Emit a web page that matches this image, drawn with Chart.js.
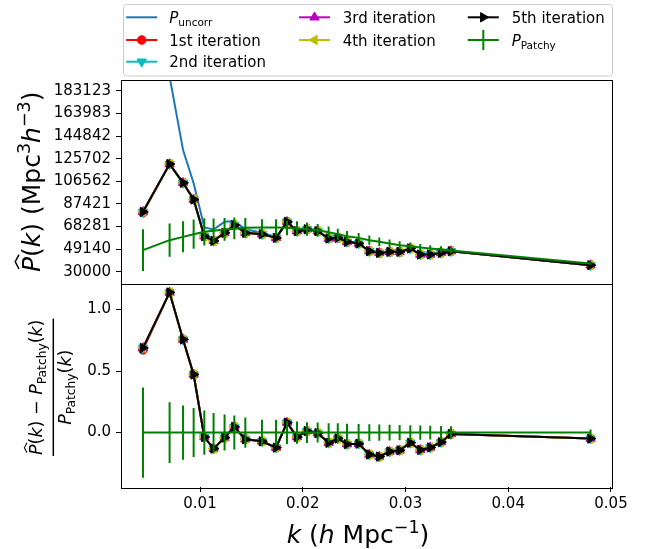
<!DOCTYPE html>
<html>
<head>
<meta charset="utf-8">
<script src="https://cdn.jsdelivr.net/npm/chart.js@4.4.0/dist/chart.umd.min.js"></script>
<style>
  html, body { margin: 0; padding: 0; background: #fff; }
  canvas { display: block; }
</style>
</head>
<body>
<canvas id="myChart" width="651" height="549"></canvas>
<script>
// k bins (h/Mpc)
var kVals = [0.00445, 0.00704, 0.00835, 0.00938, 0.01042, 0.01132, 0.01239, 0.01334, 0.01441, 0.01603,
  0.01740, 0.01847, 0.01944, 0.02041, 0.02145, 0.02252, 0.02341, 0.02431, 0.02544, 0.02648,
  0.02745, 0.02845, 0.02943, 0.03047, 0.03144, 0.03241, 0.03346, 0.03443, 0.04801];

// top panel, P(k)
var uncorrP = [260000, 195000, 133000, 105000, 67500, 65800, 72300, 73000, 66000, 63000,
  59500, 71800, 64800, 66000, 64600, 58400, 58900, 55500, 54200, 47700,
  46200, 47000, 47000, 49900, 44900, 44900, 46200, 47600, 35700];
var iter1P = [80000, 121100, 105300, 91240, 60200, 56220, 63000, 69500, 63000, 61890,
  58760, 72300, 64430, 66000, 64430, 58250, 58760, 55380, 54020, 47510,
  46070, 46920, 46920, 49790, 44720, 44720, 46070, 47510, 35670];
var iterLateP = [80750, 121100, 105300, 91240, 60200, 56220, 63000, 69500, 63000, 61890,
  58760, 72300, 64430, 66000, 64430, 58250, 58760, 55380, 54020, 47510,
  46070, 46920, 46920, 49790, 44720, 44720, 46070, 47510, 35670];
var patchyP = [48360, 56820, 59610, 61890, 63840, 64680, 65870, 66710, 67220, 67560,
  67560, 67220, 66710, 66120, 65270, 63580, 61890, 60200, 58760, 56820,
  55380, 54020, 52590, 51740, 50640, 49790, 48950, 48100, 37000];
var patchyErr = [17700, 14030, 13110, 12320, 11490, 10350, 9620, 9210, 8270, 7030,
  7030, 6180, 6000, 5550, 5290, 4830, 4640, 4330, 4110, 3860,
  3650, 3460, 3260, 3100, 2940, 2790, 2640, 2500, 925];

// bottom panel, (P - P_Patchy) / P_Patchy
var iter1Ratio = [0.672, 1.138, 0.756, 0.472, -0.036, -0.130, -0.041, 0.046, -0.054, -0.071,
  -0.122, 0.081, -0.036, 0.012, -0.005, -0.083, -0.048, -0.094, -0.090, -0.178,
  -0.195, -0.154, -0.144, -0.083, -0.141, -0.121, -0.078, -0.011, -0.049];
var iterLateRatio = [0.688, 1.138, 0.756, 0.472, -0.036, -0.130, -0.041, 0.046, -0.054, -0.071,
  -0.122, 0.081, -0.036, 0.012, -0.005, -0.083, -0.048, -0.094, -0.090, -0.178,
  -0.195, -0.154, -0.144, -0.083, -0.141, -0.121, -0.078, -0.011, -0.049];
var patchyRatio = [0, 0, 0, 0, 0, 0, 0, 0, 0, 0, 0, 0, 0, 0, 0, 0, 0, 0, 0, 0, 0, 0, 0, 0, 0, 0, 0, 0, 0];
var ratioErr = [0.366, 0.247, 0.220, 0.199, 0.180, 0.160, 0.146, 0.138, 0.123, 0.104,
  0.104, 0.092, 0.090, 0.084, 0.081, 0.076, 0.075, 0.072, 0.070, 0.068,
  0.066, 0.064, 0.062, 0.060, 0.058, 0.056, 0.054, 0.052, 0.025];

var seriesNames = ['P_uncorr', '1st iteration', '2nd iteration', '3rd iteration', '4th iteration', '5th iteration', 'P_Patchy'];
var pTicks = [30000, 49140, 68281, 87421, 106562, 125702, 144842, 163983, 183123];
var ratioTicks = [0, 0.5, 1.0];
var kTicks = [0.01, 0.02, 0.03, 0.04, 0.05];

var FONT = '"DejaVu Sans"';
var TICK_SIZE = 15;
var iterColors = ['#ff0000', '#00bfbf', '#bf00bf', '#bfbf00', '#000000'];
var iterStyles = ['circle', 'triangle', 'triangle', 'triangle', 'triangle'];
var iterRot = [0, 180, 0, 270, 90];

function pts(arr) {
  return kVals.map(function (k, i) { return { x: k, y: arr[i] }; });
}

function lineSet(label, arr, color, axis, order, style, rot) {
  return {
    label: label,
    data: pts(arr),
    yAxisID: axis,
    borderColor: color,
    backgroundColor: color,
    borderWidth: 2,
    pointRadius: style ? (style == 'circle' ? 4.3 : 5.4) : 0,
    pointStyle: style || 'circle',
    pointRotation: rot || 0,
    pointBorderWidth: 1,
    pointBorderColor: color,
    pointBackgroundColor: color,
    tension: 0,
    order: order
  };
}

var datasets = [];
datasets.push(lineSet(seriesNames[0], uncorrP, '#1f77b4', 'y', 6));
var topIters = [iter1P, iterLateP, iterLateP, iterLateP, iterLateP];
var botIters = [iter1Ratio, iterLateRatio, iterLateRatio, iterLateRatio, iterLateRatio];
for (var j = 0; j < 5; j++) {
  datasets.push(lineSet(seriesNames[j + 1], topIters[j], iterColors[j], 'y', 5 - j, iterStyles[j], iterRot[j]));
}
datasets.push(lineSet(seriesNames[6], patchyP, '#008000', 'y', 0));
for (var j = 0; j < 5; j++) {
  datasets.push(lineSet(seriesNames[j + 1], botIters[j], iterColors[j], 'yr', 5 - j, iterStyles[j], iterRot[j]));
}
datasets.push(lineSet(seriesNames[6], patchyRatio, '#008000', 'yr', 0));

// rich text helpers (italic, sub/superscripts, hat)
function fontFor(p, size) {
  return (p.it ? 'italic ' : '') + (size * (p.s || 1)) + 'px ' + FONT;
}
function measureParts(ctx, parts, size) {
  var w = 0;
  parts.forEach(function (p) { ctx.font = fontFor(p, size); w += ctx.measureText(p.t).width; });
  return w;
}
function drawParts(ctx, parts, x, y, size) {
  var cx = x;
  parts.forEach(function (p) {
    ctx.font = fontFor(p, size);
    var w = ctx.measureText(p.t).width;
    var by = y + (p.dy || 0) * size;
    ctx.fillText(p.t, cx, by);
    if (p.hat) {
      var fs = size * (p.s || 1);
      ctx.beginPath();
      ctx.moveTo(cx + 0.2 * w, by - 0.84 * fs);
      ctx.lineTo(cx + 0.68 * w, by - 0.99 * fs);
      ctx.lineTo(cx + 1.15 * w, by - 0.84 * fs);
      ctx.lineWidth = Math.max(1, fs * 0.06);
      ctx.stroke();
    }
    cx += w;
  });
  return cx - x;
}
function nameParts(name) {
  if (name.indexOf('P_') == 0) {
    return [{ t: 'P', it: 1 }, { t: name.slice(2), s: 0.7, dy: 0.22 }];
  }
  return [{ t: name }];
}

function drawMarker(ctx, style, rot, r, x, y) {
  ctx.beginPath();
  if (style == 'circle') {
    ctx.arc(x, y, r, 0, Math.PI * 2);
  } else {
    var a = rot * Math.PI / 180;
    for (var i = 0; i < 3; i++) {
      var px = x + Math.sin(a) * r, py = y - Math.cos(a) * r;
      if (i == 0) ctx.moveTo(px, py); else ctx.lineTo(px, py);
      a += 2 * Math.PI / 3;
    }
    ctx.closePath();
  }
  ctx.fill();
  ctx.stroke();
}

var decorPlugin = {
  id: 'decor',
  afterDatasetsDraw: function (chart) {
    var ctx = chart.ctx, xs = chart.scales.x, yP = chart.scales.y, yR = chart.scales.yr;
    ctx.save();
    ctx.strokeStyle = '#008000';
    ctx.lineWidth = 2;
    ctx.beginPath();
    for (var i = 0; i < kVals.length; i++) {
      var px = xs.getPixelForValue(kVals[i]);
      ctx.moveTo(px, yP.getPixelForValue(patchyP[i] - patchyErr[i]));
      ctx.lineTo(px, yP.getPixelForValue(patchyP[i] + patchyErr[i]));
      ctx.moveTo(px, yR.getPixelForValue(-ratioErr[i]));
      ctx.lineTo(px, yR.getPixelForValue(ratioErr[i]));
    }
    ctx.stroke();
    ctx.restore();
  },
  afterDraw: function (chart) {
    var ctx = chart.ctx, ca = chart.chartArea;
    var yP = chart.scales.y, yR = chart.scales.yr;
    ctx.save();
    // spines
    ctx.strokeStyle = '#000';
    ctx.lineWidth = 1;
    [yP, yR].forEach(function (s) {
      ctx.strokeRect(Math.round(ca.left) + 0.5, Math.round(s.top) + 0.5,
        Math.round(ca.right - ca.left), Math.round(s.bottom - s.top));
    });

    ctx.fillStyle = '#000';
    ctx.textAlign = 'left';
    ctx.textBaseline = 'alphabetic';

    // x label
    var xl = [{ t: 'k', it: 1 }, { t: ' (' }, { t: 'h', it: 1 }, { t: ' Mpc' }, { t: '\u22121', s: 0.7, dy: -0.42 }, { t: ')' }];
    var w = measureParts(ctx, xl, 25);
    drawParts(ctx, xl, 358 - w / 2, 543, 25);

    // top y label
    var yl = [{ t: 'P', it: 1, hat: 1 }, { t: '(' }, { t: 'k', it: 1 }, { t: ')' }, { t: ' (Mpc' },
      { t: '3', s: 0.7, dy: -0.42 }, { t: 'h', it: 1 }, { t: '\u22123', s: 0.7, dy: -0.42 }, { t: ')' }];
    ctx.save();
    ctx.translate(40, (yP.top + yP.bottom) / 2);
    ctx.rotate(-Math.PI / 2);
    w = measureParts(ctx, yl, 25);
    drawParts(ctx, yl, -w / 2, 0, 25);
    ctx.restore();

    // bottom y label (fraction)
    var num = [{ t: 'P', it: 1, hat: 1 }, { t: '(' }, { t: 'k', it: 1 }, { t: ') \u2212 ' }, { t: 'P', it: 1 },
      { t: 'Patchy', s: 0.7, dy: 0.22 }, { t: '(' }, { t: 'k', it: 1 }, { t: ')' }];
    var den = [{ t: 'P', it: 1 }, { t: 'Patchy', s: 0.7, dy: 0.22 }, { t: '(' }, { t: 'k', it: 1 }, { t: ')' }];
    var fs = 17.5;
    ctx.save();
    ctx.translate(53.3, (yR.top + yR.bottom) / 2 + 2);
    ctx.rotate(-Math.PI / 2);
    var wn = measureParts(ctx, num, fs), wd = measureParts(ctx, den, fs);
    drawParts(ctx, num, -wn / 2, -11.6, fs);
    drawParts(ctx, den, -wd / 2, 17.4, fs);
    ctx.lineWidth = 1.5;
    ctx.beginPath();
    ctx.moveTo(-wn / 2 - 1, 0);
    ctx.lineTo(wn / 2 + 1, 0);
    ctx.stroke();
    ctx.restore();

    // legend
    ctx.fillStyle = 'rgba(255,255,255,0.8)';
    ctx.strokeStyle = '#cccccc';
    ctx.beginPath();
    ctx.roundRect(123.5, 4.5, 489, 71.5, 3);
    ctx.fill();
    ctx.stroke();
    var slots = [[0, 0], [0, 1], [0, 2], [1, 0], [1, 1], [2, 0], [2, 1]];
    var colX = [141.7, 314.5, 483.3], textX = [169.3, 342.7, 511.7], rowY = [17.3, 40, 61.7];
    for (var i = 0; i < 7; i++) {
      var ds = chart.data.datasets[i];
      var cx = colX[slots[i][0]], cy = rowY[slots[i][1]];
      ctx.strokeStyle = ds.borderColor;
      ctx.fillStyle = ds.borderColor;
      ctx.lineWidth = 2;
      ctx.beginPath();
      ctx.moveTo(cx - 15.5, cy);
      ctx.lineTo(cx + 15.5, cy);
      if (i == 6) {
        ctx.moveTo(cx, cy - 10);
        ctx.lineTo(cx, cy + 10);
      }
      ctx.stroke();
      if (i >= 1 && i <= 5) {
        ctx.lineWidth = 1;
        drawMarker(ctx, iterStyles[i - 1], iterRot[i - 1], ds.pointRadius, cx, cy);
      }
      ctx.fillStyle = '#000';
      drawParts(ctx, nameParts(seriesNames[i]), textX[slots[i][0]], cy + 5.5, 15);
    }
    ctx.restore();
  }
};

function tickFont() { return { family: FONT, size: TICK_SIZE }; }
var tickGrid = { drawOnChartArea: false, drawTicks: true, tickLength: 5, color: '#000', lineWidth: 1 };

new Chart('myChart', {
  type: 'line',
  data: { datasets: datasets },
  options: {
    responsive: false,
    animation: false,
    events: [],
    devicePixelRatio: 1,
    layout: { padding: { top: 80, right: 39, left: 0, bottom: 0 } },
    plugins: { legend: { display: false }, tooltip: { enabled: false } },
    scales: {
      x: {
        type: 'linear', position: 'bottom', min: 0.00231, max: 0.0501,
        afterBuildTicks: function (s) { s.ticks = kTicks.map(function (v) { return { value: v }; }); },
        afterFit: function (s) { s.height = 62; },
        ticks: { font: tickFont(), color: '#000', padding: 3, maxRotation: 0, autoSkip: false,
          callback: function (v) { return v.toFixed(2); } },
        grid: tickGrid,
        border: { display: false }
      },
      yr: {
        type: 'linear', position: 'left', stack: 'panels', stackWeight: 1, min: -0.442, max: 1.211,
        afterBuildTicks: function (s) { s.ticks = ratioTicks.map(function (v) { return { value: v }; }); },
        afterFit: function (s) { s.width = 121; },
        ticks: { font: tickFont(), color: '#000', padding: 5, autoSkip: false,
          callback: function (v) { return v.toFixed(1); } },
        grid: tickGrid,
        border: { display: false }
      },
      y: {
        type: 'linear', position: 'left', stack: 'panels', stackWeight: 1, min: 20190, max: 192170,
        afterBuildTicks: function (s) { s.ticks = pTicks.map(function (v) { return { value: v }; }); },
        afterFit: function (s) { s.width = 121; },
        ticks: { font: tickFont(), color: '#000', padding: 5, autoSkip: false,
          callback: function (v) { return String(v); } },
        grid: tickGrid,
        border: { display: false }
      }
    }
  },
  plugins: [decorPlugin]
});
</script>
</body>
</html>
